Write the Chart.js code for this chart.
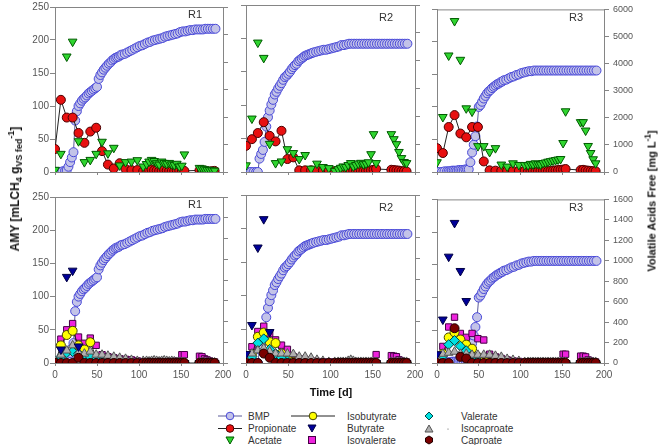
<!DOCTYPE html>
<html>
<head>
<meta charset="utf-8">
<script src="https://cdn.jsdelivr.net/npm/chart.js@4.4.1/dist/chart.umd.min.js"></script>
<style>
  body { margin: 0; width: 663px; height: 445px; background: #fff; position: relative; overflow: hidden;
         font-family: "Liberation Sans", Arial, sans-serif; }
  canvas { position: absolute; }
  .tag { position: absolute; font-size: 11px; color: #333; transform: translate(-50%, -50%); }
  .vt { position: absolute; white-space: nowrap; font-weight: bold; color: #111; line-height: 1;
        transform: translate(-50%, -50%) rotate(-90deg); }
  .vt sub, .vt sup { font-size: 0.75em; line-height: 0; }
  .xt { position: absolute; font-weight: bold; font-size: 11px; color: #111; transform: translate(-50%, -50%); }
  #legend { position: absolute; left: 0; top: 400px; }
</style>
</head>
<body>
<canvas id="t1"></canvas><canvas id="t2"></canvas><canvas id="t3"></canvas>
<canvas id="b1"></canvas><canvas id="b2"></canvas><canvas id="b3"></canvas>

<div class="tag" style="left:195px;top:14px">R1</div>
<div class="tag" style="left:386px;top:17px">R2</div>
<div class="tag" style="left:576px;top:17px">R3</div>
<div class="tag" style="left:195px;top:204px">R1</div>
<div class="tag" style="left:386px;top:207px">R2</div>
<div class="tag" style="left:576px;top:207px">R3</div>

<div class="vt" style="left:15px;top:189px;font-size:12px">AMY [mLCH<sub>4</sub> g<sub>VS fed</sub><sup>-1</sup>]</div>
<div class="vt" style="left:652px;top:201px;font-size:11px">Volatile Acids Free [mg L<sup>-1</sup>]</div>
<div class="xt" style="left:331px;top:392px">Time [d]</div>

<svg id="legend" width="663" height="45" font-family="Liberation Sans, Arial, sans-serif" font-size="10" fill="#333">
  <line x1="218" y1="16" x2="242" y2="16" stroke="#5a5a9a" stroke-width="1"/>
  <circle cx="230" cy="16" r="3.8" fill="#c3c3e8" stroke="#4848d8"/>
  <text x="248" y="19.5">BMP</text>
  <line x1="218" y1="28.5" x2="242" y2="28.5" stroke="#222" stroke-width="1"/>
  <circle cx="230" cy="28.5" r="3.8" fill="#e81010" stroke="#4a0000"/>
  <text x="248" y="32">Propionate</text>
  <polygon points="226,37 234,37 230,44" fill="#2fd52f" stroke="#005a00"/>
  <text x="248" y="43.5">Acetate</text>

  <line x1="291" y1="16" x2="335" y2="16" stroke="#222" stroke-width="1"/>
  <circle cx="313" cy="16" r="3.8" fill="#ffff00" stroke="#444400"/>
  <text x="347" y="19.5">Isobutyrate</text>
  <polygon points="308,25 316,25 312,32" fill="#000099" stroke="#000044"/>
  <text x="347" y="32">Butyrate</text>
  <rect x="308.5" y="36.5" width="7" height="7" fill="#ee22dd" stroke="#440044"/>
  <text x="347" y="43.5">Isovalerate</text>

  <polygon points="429,12 433,16 429,20 425,16" fill="#00e0e0" stroke="#004444"/>
  <text x="461" y="19.5">Valerate</text>
  <polygon points="425,32 433,32 429,25" fill="#b0b0b0" stroke="#555"/>
  <circle cx="448" cy="29" r="0.6" fill="#555"/>
  <text x="461" y="32">Isocaproate</text>
  <polygon points="429,36 432.5,38 432.5,42 429,44 425.5,42 425.5,38" fill="#7a0000" stroke="#200000"/>
  <text x="461" y="43.5">Caproate</text>
</svg>

<script>
// ---- data ----
const xTicks = [0, 50, 100, 150, 200];
const amyTicks = [0, 50, 100, 150, 200, 250];
const vfaTicksTop = [0, 1000, 2000, 3000, 4000, 5000, 6000];
const vfaTicksBottom = [0, 200, 400, 600, 800, 1000, 1200, 1400, 1600];

// BMP sampling days (d)
const bmpDays = [0,3,6,9,12,
  14,16,18,20,22,24,26,28,30,32,34,36,38,40,42,44,46,48,50,52,54,56,58,60,62,64,66,68,70,72,74,76,78,80,
  83,86,89,92,95,98,101,104,107,110,113,116,119,122,125,128,131,134,137,140,143,146,149,152,155,158,161,164,167,170,173,176,179,182,185,188,191];

// BMP [mL CH4 / g VS fed]
const bmpR1 = [0,0,0,1,2,
  3,8,15,22,30,78,92,100,104,108,111,113,116,119,121,123,125,127,129,141,147,151,155,158,161,164,166,169,171,173,174,175,177,178,
  179,181,183,185,187,189,191,192,194,196,197,199,200,201,202,203,205,206,207,208,209,210,212,213,213,214,215,215,216,216,216,216,217,217,217,217,217];
const bmpR2 = [0,0,0,0,0,
  0,20,27,33,45,68,82,92,101,108,116,120,125,129,133,138,142,144,147,150,154,157,160,162,166,168,170,172,174,175,176,177,178,179,
  180,181,182,183,183,184,185,186,187,188,190,190,191,192,192,192,192,192,192,192,192,192,192,192,192,192,192,192,192,192,192,192,192,192,192,192,192];
const bmpR3 = [0,0,0,1,1,
  1,1,2,2,2,2,3,3,3,3,4,4,4,15,30,42,55,70,100,103,108,113,117,121,124,126,129,131,133,135,136,138,139,141,
  142,144,146,147,149,150,152,153,154,155,155,156,156,156,156,156,156,156,156,156,156,156,156,156,156,156,156,156,156,156,156,156,156,156,156,156,156];

// VFA sampling days (d)
const vfaDays = [0,7,14,21,28,35,42,49,56,63,70,77,84,91,98,105,
  109,112,115,118,121,124,127,130,133,136,139,142,145,148,151,154,
  172,175,178,181,184,187,190];

// top row [mg/L]
const propionateR1 = [835,2625,1980,1980,1420,1060,1470,1610,760,270,130,320,110,70,70,25,
  40,80,90,60,50,30,40,70,50,40,30,40,60,50,30,40, 60,40,50,30,20,30,40];
const acetateR1 = [80,660,4200,4740,1120,360,440,660,1100,680,880,240,360,380,430,200,
  290,380,440,400,320,270,380,330,300,330,280,250,300,200,230,640, 150,130,100,80,70,60,50];
const propionateR2 = [940,1180,1400,1790,1300,1100,1480,465,525,60,60,60,50,50,40,30,
  40,30,50,40,30,50,40,30,40,50,30,40,50,60,80,110, 80,70,60,50,30,30,20];
const acetateR2 = [240,1920,4650,4100,1010,320,380,820,680,465,610,120,300,180,140,40,
  100,150,200,180,250,320,200,250,300,330,280,300,350,640,1360,320, 1360,1180,1000,720,500,360,320];
const propionateR3 = [880,700,1660,2100,1420,1280,1660,1660,390,60,50,50,40,40,40,40,
  30,40,50,40,30,40,50,40,30,40,50,60,70,80,90,110, 70,80,60,50,40,30,30];
const acetateR3 = [360,2030,4300,5570,4140,2350,2230,955,955,740,880,275,200,320,260,260,
  250,300,280,320,300,280,330,350,380,400,420,440,460,480,1070,2240, 1840,1840,1530,960,700,470,320];

// bottom row [mg/L]
const isobutyrateR1 = [0,170,270,310,170,130,200,50,20,10,5,0,0,0,0,0,
  0,0,0,0,0,0,0,0,0,0,0,0,0,0,0,0, 0,0,0,0,0,0,0];
const butyrateR1 = [0,130,830,890,160,0,0,0,0,0,0,0,0,0,0,0,
  0,0,0,0,0,0,0,0,0,0,0,0,0,0,0,0, 0,0,0,0,0,0,0];
const isovalerateR1 = [0,230,320,380,250,190,240,170,80,60,50,40,35,30,20,10,
  15,10,20,15,10,20,15,10,20,15,10,20,15,10,80,80, 65,60,40,30,20,10,10];
const valerateR1 = [0,60,100,110,90,70,60,30,20,10,5,0,0,0,0,0,
  0,0,0,0,0,0,0,0,0,0,0,0,0,0,0,0, 0,0,0,0,0,0,0];
const isocaproateR1 = [0,80,120,170,100,90,110,80,80,70,60,50,40,30,20,20,
  20,15,20,25,20,15,20,25,20,15,20,15,10,10,10,10, 10,10,10,5,5,5,5];
const caproateR1 = [0,0,0,0,50,0,0,0,0,0,0,0,0,0,0,0,
  0,0,0,0,0,0,0,0,0,0,0,0,0,0,0,0, 0,0,0,0,0,0,0];

const isobutyrateR2 = [0,80,250,290,200,190,90,30,10,5,0,0,0,0,0,0,
  0,0,0,0,0,0,0,0,0,0,0,0,0,0,0,0, 0,0,0,0,0,0,0];
const butyrateR2 = [86,362,1100,1370,295,0,0,0,0,0,0,0,0,0,0,0,
  0,0,0,0,0,0,0,0,0,0,0,0,0,0,0,0, 0,0,0,0,0,0,0];
const isovalerateR2 = [0,155,300,350,280,220,170,130,60,40,30,20,15,10,10,10,
  10,10,10,10,10,10,10,10,10,10,10,10,10,10,10,80, 70,65,60,30,20,10,10];
const valerateR2 = [0,60,190,230,130,90,50,20,0,0,0,0,0,0,0,0,
  0,0,0,0,0,0,0,0,0,0,0,0,0,0,0,0, 0,0,0,0,0,0,0];
const isocaproateR2 = [30,90,120,140,110,90,90,90,85,60,60,50,30,20,10,10,
  10,10,10,10,20,30,20,10,10,10,10,10,10,10,10,10, 10,10,10,10,10,10,10];
const caproateR2 = [0,0,0,90,50,0,0,0,0,0,0,0,0,0,0,0,
  0,0,0,0,0,0,0,0,0,0,0,0,0,0,0,0, 0,0,0,0,0,0,0];

const isobutyrateR3 = [0,90,250,300,230,180,140,60,20,10,0,0,0,0,0,0,
  0,0,0,0,0,0,0,0,0,0,0,0,0,0,0,0, 0,0,0,0,0,0,0];
const butyrateR3 = [86,425,1040,1370,900,606,0,0,0,0,0,0,0,0,0,0,
  0,0,0,0,0,0,0,0,0,0,0,0,0,0,0,0, 0,0,0,0,0,0,0];
const isovalerateR3 = [60,162,352,448,289,251,289,238,225,86,60,44,30,20,15,10,
  10,10,10,10,10,10,10,10,10,10,10,10,10,10,86,86, 67,67,60,30,20,10,10];
const valerateR3 = [0,70,180,220,165,120,60,20,0,0,0,0,0,0,0,0,
  0,0,0,0,0,0,0,0,0,0,0,0,0,0,0,0, 0,0,0,0,0,0,0];
const isocaproateR3 = [50,90,100,110,90,90,80,80,80,80,70,60,40,30,20,10,
  10,10,10,10,10,10,10,10,10,10,10,10,10,10,10,10, 10,10,10,10,10,10,10];
const caproateR3 = [0,0,0,340,60,44,0,0,0,0,0,0,0,0,0,0,
  0,0,0,0,0,0,0,0,0,0,0,0,0,0,0,0, 0,0,0,0,0,0,0];

// ---- styles ----
const axisGray = '#858585';
const tickText = '#555';
const styles = {
  BMP:         { pointStyle: 'circle', pointRadius: 4.5, pointBackgroundColor: '#c3c3e8', pointBorderColor: '#4848d8', showLine: true, borderColor: '#5a5a9a', borderWidth: 1 },
  Propionate:  { pointStyle: 'circle', pointRadius: 4.5, pointBackgroundColor: '#e81010', pointBorderColor: '#4a0000', showLine: true, borderColor: '#222', borderWidth: 1 },
  Acetate:     { pointStyle: 'triangle', pointRotation: 180, pointRadius: 5, pointBackgroundColor: '#2fd52f', pointBorderColor: '#005a00' },
  Isobutyrate: { pointStyle: 'circle', pointRadius: 4.5, pointBackgroundColor: '#ffff00', pointBorderColor: '#444400', showLine: true, borderColor: '#222', borderWidth: 1 },
  Butyrate:    { pointStyle: 'triangle', pointRotation: 180, pointRadius: 5, pointBackgroundColor: '#000099', pointBorderColor: '#000044' },
  Isovalerate: { pointStyle: 'rect', pointRadius: 4.5, pointBackgroundColor: '#ee22dd', pointBorderColor: '#440044' },
  Valerate:    { pointStyle: 'rectRot', pointRadius: 5, pointBackgroundColor: '#00e0e0', pointBorderColor: '#004444' },
  Isocaproate: { pointStyle: 'triangle', pointRadius: 5, pointBackgroundColor: '#b0b0b0', pointBorderColor: '#555' },
  Caproate:    { pointStyle: 'circle', pointRadius: 4.5, pointBackgroundColor: '#7a0000', pointBorderColor: '#200000' }
};

function pts(days, vals) {
  return days.map((d, i) => ({ x: d, y: vals[i] }));
}

function ds(label, days, vals, axis, order) {
  return Object.assign({ label, data: pts(days, vals), yAxisID: axis, order,
    showLine: false, pointBorderWidth: 1, borderColor: '#222', borderWidth: 1 }, styles[label]);
}

// top border of each panel
const frameTop = {
  id: 'frameTop',
  afterDraw(chart) {
    const { ctx, chartArea: a } = chart;
    ctx.save();
    ctx.strokeStyle = axisGray;
    ctx.lineWidth = 1;
    ctx.beginPath();
    ctx.moveTo(a.left, a.top + 0.5);
    ctx.lineTo(a.right, a.top + 0.5);
    ctx.stroke();
    ctx.restore();
  }
};

const PADL = 40, PADR = 40, PADT = 5, PADB = 22;

function setTicks(arr) {
  return s => { s.ticks = arr.map(v => ({ value: v })); };
}

const plain = v => String(v);

function panel(id, box, datasets, vfaTicks, showLeft, showRight, showX) {
  const cv = document.getElementById(id);
  cv.width = box.w + PADL + PADR;
  cv.height = box.h + PADT + PADB;
  cv.style.left = (box.x - PADL) + 'px';
  cv.style.top = (box.y - PADT) + 'px';

  new Chart(cv, {
    type: 'line',
    data: { datasets },
    options: {
      responsive: false,
      animation: false,
      events: [],
      layout: { padding: { top: PADT, left: 0, right: 0, bottom: 0 }, autoPadding: false },
      plugins: { legend: { display: false }, tooltip: { enabled: false } },
      scales: {
        x: {
          type: 'linear', min: 0, max: 200,
          afterBuildTicks: setTicks(xTicks),
          afterFit: s => { s.height = PADB; },
          border: { color: axisGray },
          grid: { drawOnChartArea: false, tickLength: 3, color: axisGray },
          ticks: { display: showX, padding: 3, color: tickText, font: { size: 10 }, callback: plain }
        },
        y: {
          position: 'left', min: 0, max: 250,
          afterBuildTicks: setTicks(amyTicks),
          afterFit: s => { s.width = PADL; },
          border: { color: axisGray },
          grid: { drawOnChartArea: false, tickLength: 5, color: axisGray },
          ticks: { display: showLeft, padding: 1, color: tickText, font: { size: 10 }, callback: plain }
        },
        y2: {
          position: 'right', min: 0, max: vfaTicks[vfaTicks.length - 1],
          afterBuildTicks: setTicks(vfaTicks),
          afterFit: s => { s.width = PADR; },
          border: { color: axisGray },
          grid: { drawOnChartArea: false, tickLength: 5, color: axisGray },
          ticks: { display: showRight, padding: 4, color: tickText, font: { size: 9 }, callback: plain }
        }
      }
    },
    plugins: [frameTop]
  });
}

Chart.defaults.font.family = '"Liberation Sans", Arial, sans-serif';

const cols = [{ x: 55, w: 168 }, { x: 246, w: 169 }, { x: 437, w: 167 }];
const rowTop = { y: 5, h: 167 };
const rowBottom = { y: 195, h: 168 };

const bmp = [bmpR1, bmpR2, bmpR3];
const propionate = [propionateR1, propionateR2, propionateR3];
const acetate = [acetateR1, acetateR2, acetateR3];
const isobutyrate = [isobutyrateR1, isobutyrateR2, isobutyrateR3];
const butyrate = [butyrateR1, butyrateR2, butyrateR3];
const isovalerate = [isovalerateR1, isovalerateR2, isovalerateR3];
const valerate = [valerateR1, valerateR2, valerateR3];
const isocaproate = [isocaproateR1, isocaproateR2, isocaproateR3];
const caproate = [caproateR1, caproateR2, caproateR3];

for (let i = 0; i < 3; i++) {
  // upper panels: BMP, propionate, acetate
  panel('t' + (i + 1), { x: cols[i].x, w: cols[i].w, y: rowTop.y, h: rowTop.h }, [
    ds('Acetate', vfaDays, acetate[i], 'y2', 1),
    ds('Propionate', vfaDays, propionate[i], 'y2', 2),
    ds('BMP', bmpDays, bmp[i], 'y', 3)
  ], vfaTicksTop, i === 0, i === 2, false);

  // lower panels: BMP and minor acids
  panel('b' + (i + 1), { x: cols[i].x, w: cols[i].w, y: rowBottom.y, h: rowBottom.h }, [
    ds('Caproate', vfaDays, caproate[i], 'y2', 1),
    ds('Butyrate', vfaDays, butyrate[i], 'y2', 2),
    ds('Isocaproate', vfaDays, isocaproate[i], 'y2', 3),
    ds('Valerate', vfaDays, valerate[i], 'y2', 4),
    ds('Isobutyrate', vfaDays, isobutyrate[i], 'y2', 5),
    ds('Isovalerate', vfaDays, isovalerate[i], 'y2', 6),
    ds('BMP', bmpDays, bmp[i], 'y', 7)
  ], vfaTicksBottom, i === 0, i === 2, true);
}
</script>
</body>
</html>
